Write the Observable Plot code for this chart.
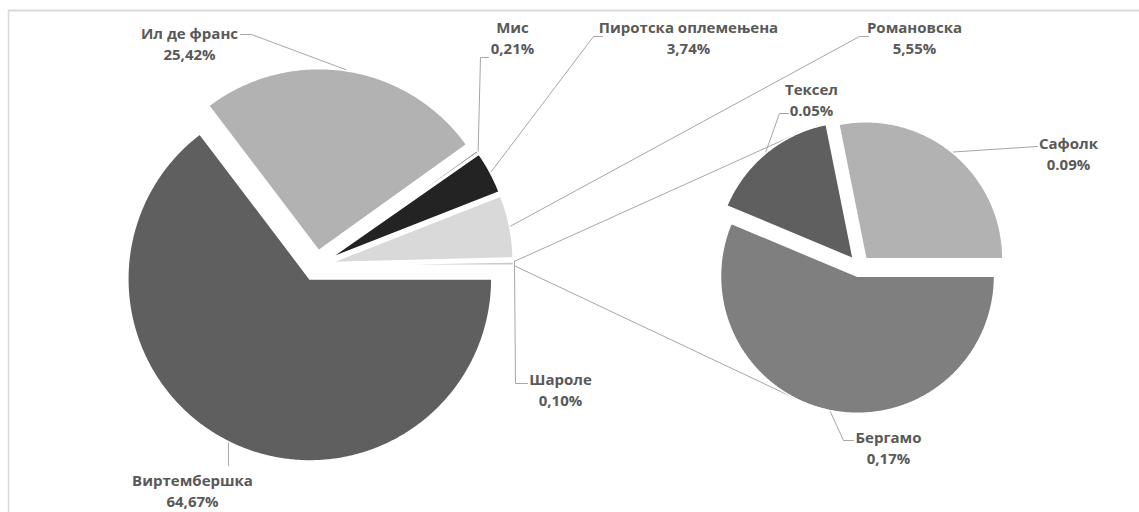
<!DOCTYPE html>
<html>
<head>
<meta charset="utf-8">
<script src="https://cdn.jsdelivr.net/npm/d3@7"></script>
<script src="https://cdn.jsdelivr.net/npm/@observablehq/plot@0.6"></script>
<style>
  html, body { margin: 0; padding: 0; background: #fff; }
  #chart svg { display: block; }
</style>
</head>
<body>
<div id="chart"></div>
<script>
// ---------- DATA ----------
// Main pie (clockwise from 3 o'clock), last slice "Other" = sum of secondary pie
const mainNames  = ["Виртембершка", "Ил де франс", "Мис", "Пиротска оплемењена", "Романовска", "Шароле"];
const mainValues = [64.67, 25.42, 0.21, 3.74, 5.55, 0.10];
const mainLabels = ["64,67%", "25,42%", "0,21%", "3,74%", "5,55%", "0,10%"];

// Secondary pie (clockwise from 3 o'clock)
const secNames  = ["Бергамо", "Тексел", "Сафолк"];
const secValues = [0.174, 0.048, 0.087];
const secLabels = ["0,17%", "0.05%", "0.09%"];

// ---------- STYLE / LAYOUT ----------
const mainColors = ["#5f5f5f", "#b2b2b2", "#7f7f7f", "#232323", "#d9d9d9", "#7f7f7f", "#c8c8c8"];
const secColors  = ["#7f7f7f", "#5f5f5f", "#b2b2b2"];
const MAIN = {cx: 316, cy: 265, r: 182, explode: 15};
const SEC  = {cx: 859, cy: 266, r: 137, explode: 10};

// label block centres and leader elbows (layout only)
const labelLayout = {
  "Виртембершка":        {pos: [192, 489],   via: [[null, 465]]},
  "Ил де франс":         {pos: [189, 42],    via: [[251, 34], [240, 34]]},
  "Мис":                 {pos: [512, 36.5],  via: [[480, 57], [488, 57]]},
  "Пиротска оплемењена": {pos: [688, 36.5],  via: [[593, 36], [602, 36]]},
  "Романовска":          {pos: [914, 36.5],  via: [[859, 36], [868, 36]]},
  "Шароле":              {pos: [560, 388],   via: [[515, 383], [527, 383]]},
  "Тексел":              {pos: [811, 98.5],  via: [[779, 113], [788, 113]]},
  "Сафолк":              {pos: [1068, 152.5],via: [[1037, 146]]},
  "Бергамо":             {pos: [888, 446.5], via: [[843, 440], [853, 440]]}
};

// ---------- GEOMETRY ----------
const rad = d => d * Math.PI / 180;
function slices(values) {
  const total = d3.sum(values);
  let acc = 0;
  return values.map((v, i) => {
    const a0 = acc / total * 360; acc += v;
    const a1 = acc / total * 360;
    return {i, a0, a1, mid: (a0 + a1) / 2};
  });
}
function centerOf(pie, s) {
  const m = rad(s.mid);
  return [pie.cx + pie.explode * Math.cos(m), pie.cy + pie.explode * Math.sin(m)];
}
function wedge(pie, s, id, color) {
  const [cx, cy] = centerOf(pie, s);
  const pts = [[cx, cy]];
  const n = Math.max(2, Math.ceil((s.a1 - s.a0) / 0.5));
  for (let k = 0; k <= n; k++) {
    const a = rad(s.a0 + (s.a1 - s.a0) * k / n);
    pts.push([cx + pie.r * Math.cos(a), cy + pie.r * Math.sin(a)]);
  }
  pts.push([cx, cy]);
  return pts.map(([x, y]) => ({id, color, x, y}));
}
function edgePoint(pie, s, angle, extra = 0) {
  const [cx, cy] = centerOf(pie, s);
  const a = rad(angle);
  return [cx + (pie.r + extra) * Math.cos(a), cy + (pie.r + extra) * Math.sin(a)];
}

const otherValue = d3.sum(secValues);
const mainAll = [...mainValues, otherValue];
const mainSlices = slices(mainAll);
const secSlices = slices(secValues);

const wedges = [
  ...mainSlices.flatMap((s, i) => wedge(MAIN, s, "m" + i, mainColors[i])),
  ...secSlices.flatMap((s, i) => wedge(SEC, s, "s" + i, secColors[i]))
];

// labels + leader lines
const labels = [];
const leaders = [];
function addLabel(pie, s, name, valueText) {
  const L = labelLayout[name];
  const anchor = edgePoint(pie, s, s.mid, 1);
  labels.push({x: L.pos[0], y: L.pos[1], text: name + "\n" + valueText});
  const pts = [anchor, ...L.via.map(([x, y]) => [x == null ? anchor[0] : x, y])];
  pts.forEach(([x, y]) => leaders.push({id: name, x, y}));
}
mainNames.forEach((n, i) => addLabel(MAIN, mainSlices[i], n, mainLabels[i]));
secNames.forEach((n, i) => addLabel(SEC, secSlices[i], n, secLabels[i]));

// series (connector) lines: from edges of the "Other" slice, tangent to the secondary slices
function tangentPoint(P, pie, s, upper) {
  const [cx, cy] = centerOf(pie, s);
  const dx = P[0] - cx, dy = P[1] - cy;
  const d = Math.hypot(dx, dy);
  const base = Math.atan2(dy, dx);
  const off = Math.acos(pie.r / d);
  const a = upper ? base + off : base - off;
  return [cx + pie.r * Math.cos(a), cy + pie.r * Math.sin(a)];
}
function sliceAt(sl, angle) { return sl.find(s => angle >= s.a0 && angle < s.a1); }
const otherSlice = mainSlices[mainSlices.length - 1];
const pTop = edgePoint(MAIN, otherSlice, otherSlice.a0);
const pBot = edgePoint(MAIN, otherSlice, otherSlice.a1);
const tTop = tangentPoint(pTop, SEC, sliceAt(secSlices, 245), true);
const tBot = tangentPoint(pBot, SEC, sliceAt(secSlices, 115), false);
const connectors = [
  {id: "top", x: pTop[0], y: pTop[1]}, {id: "top", x: tTop[0], y: tTop[1]},
  {id: "bot", x: pBot[0], y: pBot[1]}, {id: "bot", x: tBot[0], y: tBot[1]}
];

// ---------- PLOT ----------
const chart = Plot.plot({
  width: 1139,
  height: 512,
  margin: 0,
  x: {domain: [0, 1139], range: [0, 1139], axis: null},
  y: {domain: [0, 512], range: [0, 512], axis: null},
  color: {type: "identity"},
  style: {background: "#fff", fontFamily: "'Open Sans', sans-serif"},
  marks: [
    Plot.ruleY([10], {x1: 8, x2: 1139, stroke: "#d9d9d9", strokeWidth: 2}),
    Plot.ruleX([8], {y1: 10, y2: 512, stroke: "#d9d9d9", strokeWidth: 1.5}),
    Plot.line(connectors, {x: "x", y: "y", z: "id", stroke: "#a6a6a6", strokeWidth: 1}),
    Plot.line(wedges, {x: "x", y: "y", z: "id", fill: "color", stroke: "#fff", strokeWidth: 1.5, curve: "linear"}),
    Plot.line(leaders, {x: "x", y: "y", z: "id", stroke: "#a6a6a6", strokeWidth: 1}),
    Plot.text(labels, {x: "x", y: "y", text: "text", fill: "#595959", fontSize: 15, fontWeight: "bold", lineHeight: 1.4, fontFamily: "'Open Sans', sans-serif"})
  ]
});
document.getElementById("chart").appendChild(chart);
</script>
</body>
</html>
